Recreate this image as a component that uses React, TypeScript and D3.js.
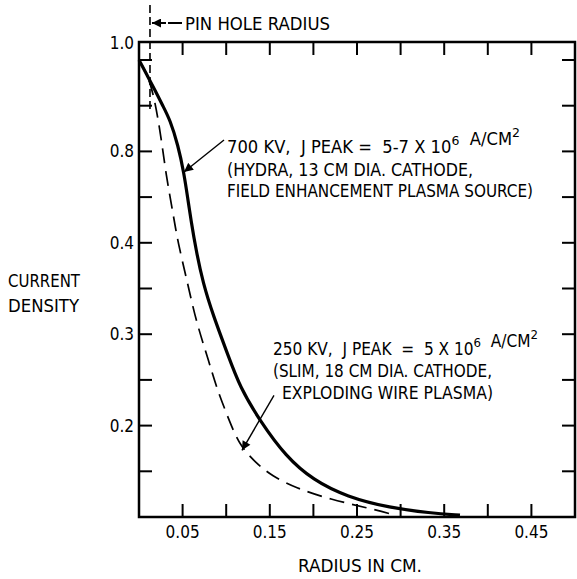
import React, { useRef, useEffect } from "react";
import * as d3 from "d3";

// y axis is not linear: each tick is one step, labels sit on every other step
const yLevels = [1.0, 0.9, 0.8, 0.6, 0.4, 0.35, 0.3, 0.25, 0.2, 0.15, 0.1];
const yLabels = [
  { v: 1.0, text: "1.0" },
  { v: 0.8, text: "0.8" },
  { v: 0.4, text: "0.4" },
  { v: 0.3, text: "0.3" },
  { v: 0.2, text: "0.2" },
];
const xTicks = [0.05, 0.1, 0.15, 0.2, 0.25, 0.3, 0.35, 0.4, 0.45];
const xLabels = [0.05, 0.15, 0.25, 0.35, 0.45];

// 700 KV (Hydra) - solid
const hydraR = [0, 0.0092, 0.0183, 0.0275, 0.0356, 0.0447, 0.0516, 0.0562, 0.0596, 0.0654, 0.0734, 0.0849, 0.1021, 0.1158, 0.1388, 0.1686, 0.1995, 0.2385, 0.2878, 0.3337, 0.3681];
const hydraJ = [1.0, 0.967, 0.934, 0.899, 0.869, 0.814, 0.705, 0.587, 0.5, 0.392, 0.356, 0.321, 0.277, 0.242, 0.205, 0.166, 0.1405, 0.122, 0.11, 0.1044, 0.102];

// 250 KV (Slim) - dashed
const slimR = [0, 0.0069, 0.0161, 0.0252, 0.031, 0.039, 0.0447, 0.055, 0.0654, 0.0803, 0.0883, 0.1044, 0.1158, 0.1342, 0.1525, 0.1789, 0.2202, 0.2626, 0.2936];
const slimJ = [1.0, 0.978, 0.934, 0.834, 0.697, 0.53, 0.4, 0.359, 0.314, 0.27, 0.243, 0.203, 0.178, 0.159, 0.145, 0.132, 0.119, 0.11, 0.102];

const pinHole = 0.0126;

const FONT = "'Liberation Sans Narrow', 'DejaVu Sans Condensed', 'Arial Narrow', sans-serif";

const App = () => {
  const svgRef = useRef(null);
  const width = 577;
  const height = 579;
  const margin = { top: 42, right: 2, bottom: 62, left: 139 };

  useEffect(() => {
    const svg = d3.select(svgRef.current);
    svg.selectAll("*").remove();

    const innerW = width - margin.left - margin.right;
    const innerH = height - margin.top - margin.bottom;
    const tickTop = 18; // first tick (1.0) sits below the frame top

    const x = d3.scaleLinear().domain([0, 0.5]).range([margin.left, margin.left + innerW]);
    const step = (innerH - tickTop) / (yLevels.length - 1);
    const y = d3
      .scaleLinear()
      .domain(yLevels)
      .range(yLevels.map((_, i) => margin.top + tickTop + i * step));

    const top = margin.top;
    const bottom = margin.top + innerH;
    const left = margin.left;
    const right = margin.left + innerW;

    svg
      .append("defs")
      .append("marker")
      .attr("id", "arr")
      .attr("viewBox", "0 0 10 10")
      .attr("refX", 10)
      .attr("refY", 5)
      .attr("markerWidth", 10)
      .attr("markerHeight", 9)
      .attr("markerUnits", "userSpaceOnUse")
      .attr("orient", "auto")
      .append("path")
      .attr("d", "M0,0 L10,5 L0,10 z")
      .attr("fill", "#000");

    // frame
    svg
      .append("rect")
      .attr("x", left)
      .attr("y", top)
      .attr("width", right - left)
      .attr("height", bottom - top)
      .attr("fill", "none")
      .attr("stroke", "#000")
      .attr("stroke-width", 2.5);

    const tickLen = 13;
    // left/right ticks
    yLevels.slice(0, -1).forEach((v) => {
      svg.append("line").attr("x1", left).attr("x2", left + tickLen).attr("y1", y(v)).attr("y2", y(v)).attr("stroke", "#000").attr("stroke-width", 2);
      svg.append("line").attr("x1", right - tickLen).attr("x2", right).attr("y1", y(v)).attr("y2", y(v)).attr("stroke", "#000").attr("stroke-width", 2);
    });
    // top/bottom ticks
    xTicks.forEach((v) => {
      svg.append("line").attr("x1", x(v)).attr("x2", x(v)).attr("y1", bottom).attr("y2", bottom - tickLen).attr("stroke", "#000").attr("stroke-width", 2);
      svg.append("line").attr("x1", x(v)).attr("x2", x(v)).attr("y1", top).attr("y2", top + tickLen).attr("stroke", "#000").attr("stroke-width", 2);
    });

    // tick labels
    yLabels.forEach((d, i) => {
      svg
        .append("text")
        .attr("x", left - 5)
        .attr("y", i === 0 ? top + 7 : y(d.v) + 6)
        .attr("text-anchor", "end")
        .style("font-family", FONT)
        .style("font-size", "17px")
        .text(d.text);
    });
    xLabels.forEach((v) => {
      svg
        .append("text")
        .attr("x", x(v))
        .attr("y", bottom + 21)
        .attr("text-anchor", "middle")
        .style("font-family", FONT)
        .style("font-size", "17px")
        .text(d3.format(".2f")(v));
    });

    const addText = (t, tx, ty, len, size = 17) =>
      svg
        .append("text")
        .attr("x", tx)
        .attr("y", ty)
        .attr("textLength", len)
        .attr("lengthAdjust", "spacingAndGlyphs")
        .style("font-family", FONT)
        .style("font-size", `${size}px`)
        .text(t);

    // axis titles
    addText("CURRENT", 8, 287, 72);
    addText("DENSITY", 8, 312, 71);
    addText("RADIUS IN CM.", 298, 572, 124);

    // pin hole radius marker
    svg
      .append("line")
      .attr("x1", x(pinHole))
      .attr("x2", x(pinHole))
      .attr("y1", 5)
      .attr("y2", y(0.89))
      .attr("stroke", "#000")
      .attr("stroke-width", 1.6)
      .attr("stroke-dasharray", "8 4");
    svg
      .append("line")
      .attr("x1", x(pinHole) + 32)
      .attr("x2", x(pinHole) + 2)
      .attr("y1", 23)
      .attr("y2", 23)
      .attr("stroke", "#000")
      .attr("stroke-width", 1.8)
      .attr("stroke-dasharray", "14 2 6 2")
      .attr("marker-end", "url(#arr)");
    addText("PIN HOLE RADIUS", x(pinHole) + 35, 30, 145);

    // curves
    const line = d3
      .line()
      .x((d) => x(d[0]))
      .y((d) => y(d[1]))
      .curve(d3.curveBasis);

    svg
      .append("path")
      .attr("d", line(d3.zip(slimR, slimJ)))
      .attr("fill", "none")
      .attr("stroke", "#000")
      .attr("stroke-width", 1.7)
      .attr("stroke-dasharray", "15 8");

    svg
      .append("path")
      .attr("d", line(d3.zip(hydraR, hydraJ)))
      .attr("fill", "none")
      .attr("stroke", "#000")
      .attr("stroke-width", 3.2);

    // leaders
    const leaders = [
      [0.0975, 0.825, 0.0516, 0.71],
      [0.1548, 0.233, 0.1181, 0.173],
    ];
    leaders.forEach((l) => {
      svg
        .append("line")
        .attr("x1", x(l[0]))
        .attr("y1", y(l[1]))
        .attr("x2", x(l[2]))
        .attr("y2", y(l[3]))
        .attr("stroke", "#000")
        .attr("stroke-width", 1.4)
        .attr("marker-end", "url(#arr)");
    });

    // annotation with superscripts
    const supText = (parts, tx, ty, len) => {
      const t = svg
        .append("text")
        .attr("x", tx)
        .attr("y", ty)
        .attr("textLength", len)
        .attr("lengthAdjust", "spacingAndGlyphs")
        .style("font-family", FONT)
        .style("font-size", "17px")
        .attr("xml:space", "preserve");
      parts.forEach(([s, sup]) => {
        t.append("tspan")
          .attr("dy", sup ? -8 : 0)
          .style("font-size", sup ? "13px" : "17px")
          .text(s);
        if (sup) t.append("tspan").attr("dy", 8).text("");
      });
    };

    supText([["700 KV,  J PEAK =  5-7 X 10", false], ["6", true], ["  A/CM", false], ["2", true]], 227, 153, 293);
    addText("(HYDRA, 13 CM DIA. CATHODE,", 227, 176, 246);
    addText("FIELD ENHANCEMENT PLASMA SOURCE)", 227, 197, 306);

    supText([["250 KV,  J PEAK  =  5 X 10", false], ["6", true], ["  A/CM", false], ["2", true]], 273, 355, 265);
    addText("(SLIM,  18 CM DIA. CATHODE,", 273, 377, 219);
    addText("EXPLODING WIRE PLASMA)", 282, 399, 211);
  }, []);

  return (
    <svg
      ref={svgRef}
      width={width}
      height={height}
      style={{ position: "absolute", left: 0, top: 0, background: "#fff" }}
    ></svg>
  );
};

export default App;
